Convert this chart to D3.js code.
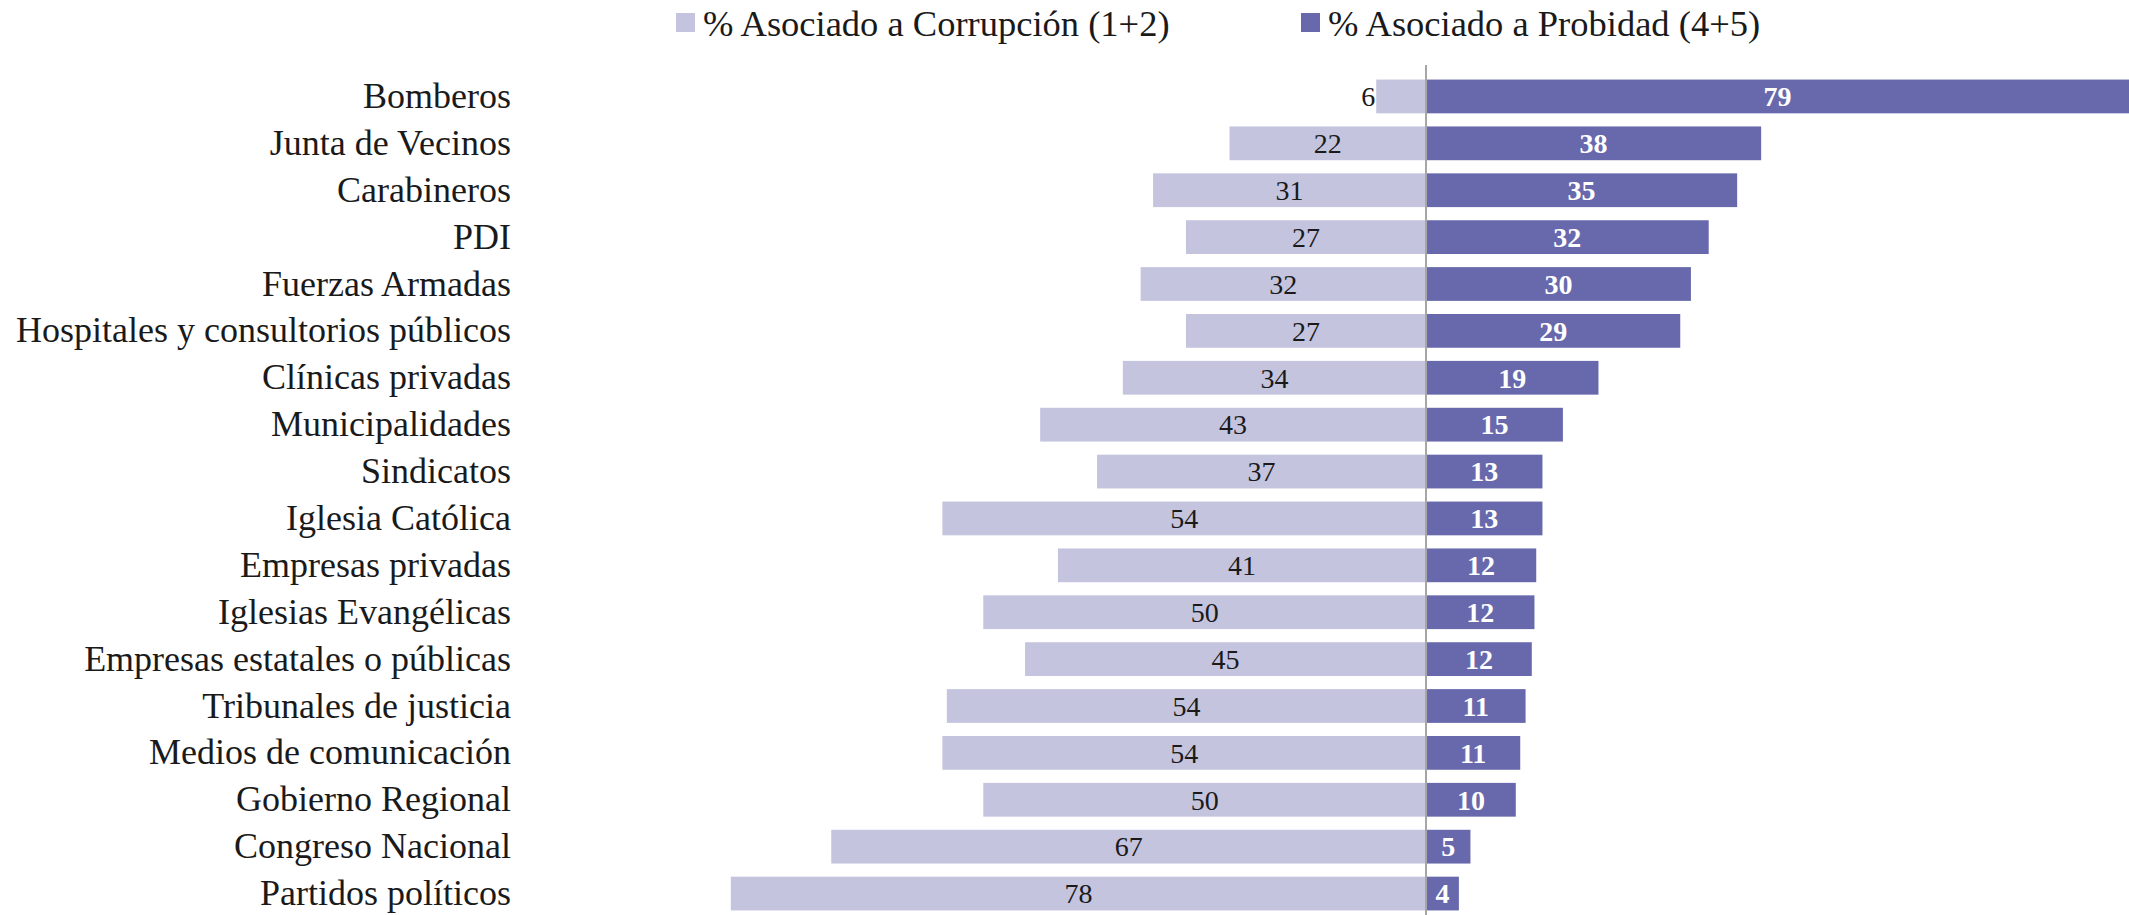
<!DOCTYPE html>
<html><head><meta charset="utf-8">
<script src="https://cdn.jsdelivr.net/npm/d3@7"></script>
<style>
html,body{margin:0;padding:0;background:#fff;}
svg{display:block;font-family:"Liberation Serif","DejaVu Serif",serif;}
</style></head>
<body>
<svg id="chart" width="2129" height="915"></svg>
<script>
const categories = ["Bomberos","Junta de Vecinos","Carabineros","PDI","Fuerzas Armadas","Hospitales y consultorios públicos","Clínicas privadas","Municipalidades","Sindicatos","Iglesia Católica","Empresas privadas","Iglesias Evangélicas","Empresas estatales o públicas","Tribunales de justicia","Medios de comunicación","Gobierno Regional","Congreso Nacional","Partidos políticos"];
const corrupcion = [5.6,22.1,30.7,27.0,32.1,27.0,34.1,43.4,37.0,54.4,41.4,49.8,45.1,53.9,54.4,49.8,66.9,78.2];
const probidad = [79.1,37.7,35.0,31.8,29.8,28.6,19.4,15.4,13.1,13.1,12.4,12.2,11.9,11.2,10.6,10.1,5.0,3.7];
const seriesNames = ["% Asociado a Corrupción (1+2)","% Asociado a Probidad (4+5)"];
const colors = ["#c4c4df","#6869ac"];

const svg = d3.select("#chart");
const x = d3.scaleLinear().domain([-80,80]).range([1426-711.2,1426+711.2]);
const y = d3.scaleBand().domain(categories).range([73,917]).paddingInner(0.28).paddingOuter(0.14);

const rows = categories.map((c,i)=>({c, a:corrupcion[i], b:probidad[i]}));

// left bars
svg.append("g").selectAll("rect").data(rows).join("rect")
  .attr("x", d=>x(-d.a)).attr("y", d=>y(d.c))
  .attr("width", d=>x(0)-x(-d.a)).attr("height", y.bandwidth())
  .attr("fill", colors[0]);
// right bars
svg.append("g").selectAll("rect").data(rows).join("rect")
  .attr("x", x(0)).attr("y", d=>y(d.c))
  .attr("width", d=>x(d.b)-x(0)).attr("height", y.bandwidth())
  .attr("fill", colors[1]);

// zero line
svg.append("line").attr("x1",x(0)).attr("x2",x(0)).attr("y1",65).attr("y2",915)
  .attr("stroke","#a6a6a6").attr("stroke-width",2);

const fmt = d3.format(".0f");
const narrow = d => (x(0)-x(-d.a)) < 60;
// left labels
svg.append("g").selectAll("text").data(rows).join("text")
  .attr("x", d=> narrow(d) ? x(-d.a)-1 : (x(-d.a)+x(0))/2)
  .attr("text-anchor", d=> narrow(d) ? "end" : "middle")
  .attr("y", d=>y(d.c)+y.bandwidth()/2).attr("dy","0.35em")
  .attr("font-size",28).attr("fill","#1a1a1a")
  .text(d=>fmt(d.a));
// right labels
svg.append("g").selectAll("text").data(rows).join("text")
  .attr("x", d=>(x(0)+x(d.b))/2).attr("text-anchor","middle")
  .attr("y", d=>y(d.c)+y.bandwidth()/2).attr("dy","0.35em")
  .attr("font-size",28).attr("font-weight","bold").attr("fill","#ffffff")
  .text(d=>fmt(d.b));

// category axis
const yAxis = d3.axisLeft(y).tickSize(0).tickPadding(0);
const ga = svg.append("g").attr("transform","translate(511,0)").call(yAxis);
ga.attr("font-family",null).attr("font-size",null);
ga.select(".domain").remove();
ga.selectAll("text").attr("font-size",36).attr("fill","#1a1a1a");

// legend
const legX = [676, 1301];
const lg = svg.append("g");
seriesNames.forEach((n,i)=>{
  lg.append("rect").attr("x",legX[i]).attr("y",13).attr("width",19).attr("height",19).attr("fill",colors[i]);
  lg.append("text").attr("x",legX[i]+27).attr("y",23).attr("dy","0.35em")
    .attr("font-size",36.5).attr("fill","#1a1a1a").text(n);
});
</script>
</body></html>
